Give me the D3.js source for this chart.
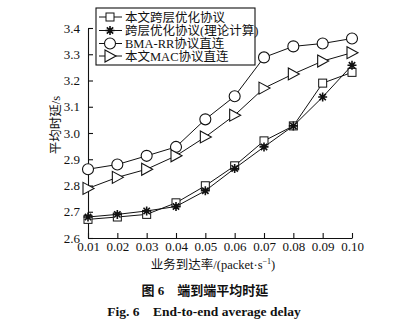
<!DOCTYPE html>
<html><head><meta charset="utf-8">
<script src="https://cdn.jsdelivr.net/npm/d3@7"></script>
<style>
body{margin:0;background:#fff;}
svg text{font-family:"Liberation Serif","Times New Roman","Noto Sans CJK SC",serif;fill:#111;}
</style></head>
<body><svg id="c" width="396" height="322"></svg>
<script>
// arrival rate (packet/s)
const rates = [0.01,0.02,0.03,0.04,0.05,0.06,0.07,0.08,0.09,0.10];
// average end-to-end delay (s)
const crossLayer   = [2.671,2.680,2.690,2.734,2.799,2.875,2.970,3.027,3.190,3.231];
const crossTheory  = [2.680,2.690,2.703,2.720,2.780,2.865,2.947,3.027,3.137,3.258];
const bmaRR        = [2.862,2.880,2.913,2.947,3.052,3.140,3.288,3.330,3.341,3.360];
const macDirect    = [2.789,2.831,2.862,2.913,2.985,3.068,3.171,3.225,3.274,3.306];
const seriesNames  = ["本文跨层优化协议","跨层优化协议(理论计算)","BMA-RR协议直连","本文MAC协议直连"];
const yTicks = [2.6,2.7,2.8,2.9,3.0,3.1,3.2,3.3,3.4];

const svg = d3.select("#c");
const x = d3.scaleLinear().domain([0.01,0.10]).range([88,352]);
const y = d3.scaleLinear().domain([2.6,3.4]).range([238,28]);

// axes with inward ticks
const xAxis = svg.append("g").attr("transform","translate(0,238)")
  .call(d3.axisBottom(x).tickValues(rates).tickFormat(d3.format(".2f")).tickSize(-5).tickSizeOuter(0).tickPadding(4));
const yAxis = svg.append("g").attr("transform","translate(88,0)")
  .call(d3.axisLeft(y).tickValues(yTicks).tickFormat(d3.format(".1f")).tickSize(-5).tickSizeOuter(0).tickPadding(8));
[xAxis,yAxis].forEach(g=>{
  g.select(".domain").attr("stroke","#111").attr("stroke-width",1.1);
  g.selectAll(".tick line").attr("stroke","#111").attr("stroke-width",1.1);
  g.selectAll(".tick text").attr("font-size",13).attr("fill","#111");
});

const line = d3.line().x((d,i)=>x(rates[i])).y(d=>y(d));
const data = [crossLayer,crossTheory,bmaRR,macDirect];
const kinds = ["square","star","circle","triangle"];

function marker(g,kind,cx,cy){
  if(kind==="square") g.append("rect").attr("x",cx-4).attr("y",cy-4).attr("width",8).attr("height",8)
      .attr("fill","#fff").attr("stroke","#111").attr("stroke-width",1);
  else if(kind==="circle") g.append("circle").attr("cx",cx).attr("cy",cy).attr("r",5.5)
      .attr("fill","#fff").attr("stroke","#111").attr("stroke-width",1.1);
  else if(kind==="triangle") g.append("path")
      .attr("d",`M${cx-5},${cy-6}L${cx+6},${cy}L${cx-5},${cy+6}Z`)
      .attr("fill","#fff").attr("stroke","#111").attr("stroke-width",1.1);
  else {
    const r=4.5, p=[];
    for(let k=0;k<4;k++){const a=k*Math.PI/4;p.push(`M${cx-r*Math.cos(a)},${cy-r*Math.sin(a)}L${cx+r*Math.cos(a)},${cy+r*Math.sin(a)}`);}
    g.append("path").attr("d",p.join("")).attr("stroke","#111").attr("stroke-width",1.6);
  }
}

data.forEach((vals,si)=>{
  svg.append("path").datum(vals).attr("d",line).attr("fill","none").attr("stroke","#111").attr("stroke-width",1);
  const g = svg.append("g");
  vals.forEach((v,i)=>marker(g,kinds[si],x(rates[i]),y(v)));
});

// legend
const lg = svg.append("g");
lg.append("rect").attr("x",96).attr("y",8).attr("width",159).attr("height",57)
  .attr("fill","#fff").attr("stroke","#111").attr("stroke-width",1.1);
const rowsY = [17,30.5,43.5,56];
seriesNames.forEach((n,i)=>{
  lg.append("line").attr("x1",99).attr("x2",122).attr("y1",rowsY[i]).attr("y2",rowsY[i]).attr("stroke","#111");
  marker(lg,kinds[i],110,rowsY[i]);
  lg.append("text").attr("x",125).attr("y",rowsY[i]+4.5).attr("font-size",12.5).text(n);
});

// axis titles
svg.append("text").attr("transform","translate(60,125) rotate(-90)").attr("text-anchor","middle")
  .attr("font-size",12.5).text("平均时延/s");
const xt = svg.append("text").attr("x",213).attr("y",269).attr("text-anchor","middle").attr("font-size",12.5);
xt.append("tspan").text("业务到达率/(packet·s");
xt.append("tspan").attr("dy",-5).attr("font-size",8).text("−1");
xt.append("tspan").attr("dy",5).text(")");

// caption
svg.append("text").attr("x",205).attr("y",295).attr("text-anchor","middle").attr("font-size",13)
  .attr("font-weight","bold").attr("xml:space","preserve").text("图 6    端到端平均时延");
svg.append("text").attr("x",204).attr("y",316).attr("text-anchor","middle").attr("font-size",13.5)
  .attr("font-weight","bold").attr("xml:space","preserve").text("Fig. 6    End-to-end average delay");
</script></body></html>
